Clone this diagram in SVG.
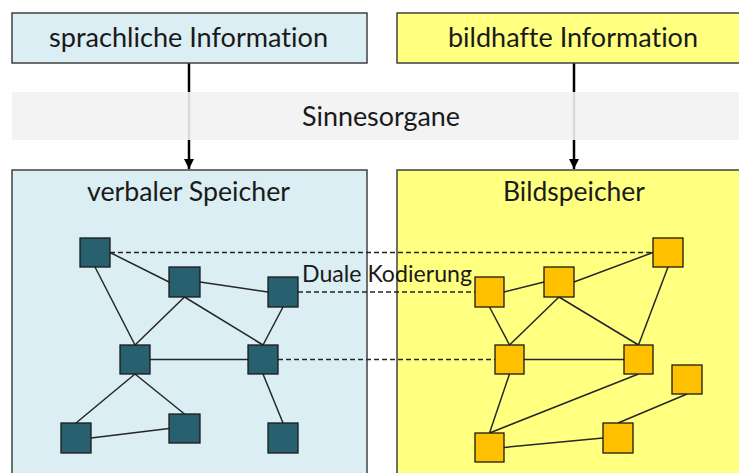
<svg xmlns="http://www.w3.org/2000/svg" width="739" height="473" viewBox="0 0 739 473">
<style>
text{font-family:Lato,"Open Sans","Liberation Sans",sans-serif;fill:#1a1a1a;text-anchor:start;font-variant-ligatures:none;font-feature-settings:"liga" 0}
.lbl{font-size:26px}
.panel{stroke:#404040;stroke-width:1.5}
.blue{fill:#daeef3}
.yellow{fill:#ffff80}
.vn{fill:#29606f;stroke:#1a1a1a;stroke-width:1.3}
.bn{fill:#ffc000;stroke:#1a1a1a;stroke-width:1.3}
.edge{stroke:#262626;stroke-width:1.5;fill:none}
.dash{stroke:#262626;stroke-width:1.4;stroke-dasharray:5 3;fill:none}
.arrow{stroke:#000;stroke-width:2.5;fill:none}
</style>
<defs>
<marker id="ah" viewBox="0 0 10 10" refX="10" refY="5" markerWidth="4" markerHeight="4.4" markerUnits="strokeWidth" orient="auto">
<path d="M0,0 L10,5 L0,10 z" fill="#000"/>
</marker>
</defs>
<rect width="739" height="473" fill="#fff"/>

<g id="connectors-arrows">
<line class="arrow" x1="189" y1="63" x2="189" y2="169" marker-end="url(#ah)"/>
<line class="arrow" x1="574" y1="63" x2="574" y2="169" marker-end="url(#ah)"/>
</g>

<g id="sprachliche-information">
<rect class="panel blue" x="12" y="13" width="355" height="50"/>
<text class="lbl" x="49" y="47" textLength="279" lengthAdjust="spacingAndGlyphs">sprachliche Information</text>
</g>
<g id="bildhafte-information">
<rect class="panel yellow" x="397" y="13" width="360" height="50"/>
<text class="lbl" x="448" y="47" textLength="250" lengthAdjust="spacingAndGlyphs">bildhafte Information</text>
</g>

<g id="sinnesorgane">
<rect x="12" y="92" width="740" height="48" fill="#f2f2f2" fill-opacity="0.9"/>
<text class="lbl" x="302" y="125.5" textLength="158" lengthAdjust="spacingAndGlyphs">Sinnesorgane</text>
</g>

<g id="verbaler-speicher">
<rect class="panel blue" x="12" y="170" width="355" height="320"/>
<text class="lbl" x="87" y="201" textLength="203" lengthAdjust="spacingAndGlyphs">verbaler Speicher</text>
</g>
<g id="bildspeicher">
<rect class="panel yellow" x="397" y="170" width="360" height="320"/>
<text class="lbl" x="503" y="201" textLength="142" lengthAdjust="spacingAndGlyphs">Bildspeicher</text>
</g>

<g id="connectors">
<!-- verbal network -->
<line class="edge" x1="110" y1="252.5" x2="169" y2="282"/>
<line class="edge" x1="95" y1="267" x2="135" y2="345"/>
<line class="edge" x1="200" y1="282" x2="268" y2="292"/>
<line class="edge" x1="184.5" y1="297" x2="135" y2="345"/>
<line class="edge" x1="184.5" y1="297" x2="263" y2="345"/>
<line class="edge" x1="283" y1="307" x2="263" y2="345"/>
<line class="edge" x1="150" y1="359.5" x2="248" y2="359.5"/>
<line class="edge" x1="135" y1="374" x2="76" y2="423"/>
<line class="edge" x1="135" y1="374" x2="184.5" y2="414"/>
<line class="edge" x1="91" y1="438" x2="169" y2="428.5"/>
<line class="edge" x1="263" y1="374" x2="283" y2="423"/>
<!-- image network -->
<line class="edge" x1="504" y1="292" x2="544" y2="282"/>
<line class="edge" x1="574" y1="282" x2="653" y2="252.5"/>
<line class="edge" x1="489.5" y1="307" x2="509.5" y2="345"/>
<line class="edge" x1="559" y1="297" x2="509.5" y2="345"/>
<line class="edge" x1="559" y1="297" x2="638.5" y2="345"/>
<line class="edge" x1="668" y1="267" x2="638.5" y2="345"/>
<line class="edge" x1="524" y1="359.5" x2="624" y2="359.5"/>
<line class="edge" x1="509.5" y1="374" x2="489.5" y2="433"/>
<line class="edge" x1="638.5" y1="374" x2="489.5" y2="433"/>
<line class="edge" x1="504" y1="447.5" x2="603" y2="438"/>
<line class="edge" x1="618" y1="423" x2="687" y2="394"/>
<!-- dual coding -->
<line class="dash" x1="110" y1="252.5" x2="653" y2="252.5"/>
<line class="dash" x1="298" y1="292" x2="475" y2="292"/>
<line class="dash" x1="278" y1="359.5" x2="495" y2="359.5"/>
</g>

<g id="v1"><rect class="vn" x="80" y="238" width="30" height="29"/></g>
<g id="v2"><rect class="vn" x="169" y="267" width="31" height="30"/></g>
<g id="v3"><rect class="vn" x="268" y="277" width="30" height="30"/></g>
<g id="v4"><rect class="vn" x="120" y="345" width="30" height="29"/></g>
<g id="v5"><rect class="vn" x="248" y="345" width="30" height="29"/></g>
<g id="v6"><rect class="vn" x="61" y="423" width="30" height="30"/></g>
<g id="v7"><rect class="vn" x="169" y="414" width="31" height="29"/></g>
<g id="v8"><rect class="vn" x="268" y="423" width="30" height="30"/></g>

<g id="b0"><rect class="bn" x="653" y="238" width="30" height="29"/></g>
<g id="b1"><rect class="bn" x="475" y="277" width="29" height="30"/></g>
<g id="b2"><rect class="bn" x="544" y="267" width="30" height="30"/></g>
<g id="b3"><rect class="bn" x="495" y="345" width="29" height="29"/></g>
<g id="b4"><rect class="bn" x="624" y="345" width="29" height="29"/></g>
<g id="b5"><rect class="bn" x="672" y="365" width="30" height="29"/></g>
<g id="b6"><rect class="bn" x="475" y="433" width="29" height="29"/></g>
<g id="b7"><rect class="bn" x="603" y="423" width="30" height="30"/></g>

<g id="duale-kodierung">
<text x="302" y="282" font-size="24" textLength="170" lengthAdjust="spacingAndGlyphs">Duale Kodierung</text>
</g>
</svg>
